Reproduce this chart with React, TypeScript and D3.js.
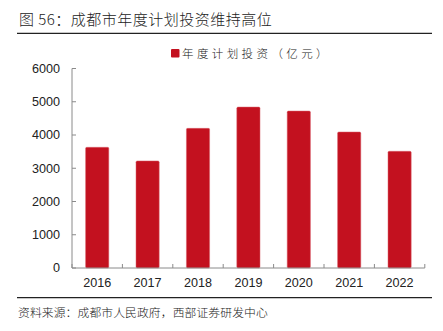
import React from "react";
import * as d3 from "d3";

const years = ["2016", "2017", "2018", "2019", "2020", "2021", "2022"];
const investment = [3630, 3220, 4200, 4840, 4720, 4090, 3510];
const yTicks = [0, 1000, 2000, 3000, 4000, 5000, 6000];
const titleText = "图 56：成都市年度计划投资维持高位";
const legendText = "年度计划投资（亿元）";
const sourceText = "资料来源：成都市人民政府，西部证券研发中心";

const W = 443;
const H = 331;
const RED = "#C3111F";
const AXIS = "#8a8a8a";
const CJK = "'Noto Sans CJK SC', 'Noto Sans', sans-serif";
const LATIN = "'Liberation Sans', Arial, sans-serif";

export default function App() {
  const x = d3
    .scaleBand<string>()
    .domain(years)
    .range([72, 424.8])
    .paddingInner(0.54)
    .paddingOuter(0.27);
  const y = d3.scaleLinear().domain([0, 6000]).range([268, 68.5]);
  const x0 = x.range()[0];
  const x1 = x.range()[1];
  const step = x.step();
  const boundaries = d3.range(years.length + 1).map((i) => x0 + i * step);

  return (
    <svg
      width={W}
      height={H}
      viewBox={`0 0 ${W} ${H}`}
      style={{ position: "absolute", left: 0, top: 0, background: "#fff" }}
    >
      <text
        x={19}
        y={24.5}
        fontFamily={CJK}
        fontSize={15}
        fontWeight={300}
        letterSpacing={0.5}
        fill="#222"
      >
        {titleText}
      </text>
      <line x1={17} x2={432} y1={33.3} y2={33.3} stroke="#222" strokeWidth={1.2} />

      <rect x={171} y={49} width={8.5} height={8.5} fill={RED} rx={1} />
      <text
        x={182}
        y={57.5}
        fontFamily={CJK}
        fontSize={11.5}
        fontWeight={300}
        letterSpacing={3.4}
        fill="#222"
      >
        {legendText}
      </text>

      {years.map((yr, i) => (
        <rect
          key={yr}
          x={x(yr)}
          y={y(investment[i])}
          width={x.bandwidth()}
          height={y(0) - y(investment[i])}
          fill={RED}
          stroke="#d9606a"
          strokeWidth={0.5}
          rx={1.2}
        />
      ))}

      <line x1={72} x2={72} y1={y(6000)} y2={y(0)} stroke={AXIS} strokeWidth={1} />
      {yTicks.map((t) => (
        <g key={t}>
          <line x1={72} x2={76} y1={y(t)} y2={y(t)} stroke={AXIS} strokeWidth={1} />
          <text
            x={60}
            y={y(t)}
            dy="0.35em"
            textAnchor="end"
            fontFamily={LATIN}
            fontSize={12.6}
            fill="#222"
          >
            {t}
          </text>
        </g>
      ))}

      <line x1={x0} x2={x1} y1={y(0)} y2={y(0)} stroke={AXIS} strokeWidth={1} />
      {boundaries.map((bx, i) => (
        <line key={i} x1={bx} x2={bx} y1={y(0)} y2={y(0) - 4} stroke={AXIS} strokeWidth={1} />
      ))}
      {years.map((yr) => (
        <text
          key={yr}
          x={(x(yr) as number) + x.bandwidth() / 2}
          y={287}
          textAnchor="middle"
          fontFamily={LATIN}
          fontSize={12.6}
          fill="#222"
        >
          {yr}
        </text>
      ))}

      <line x1={17} x2={432} y1={297.7} y2={297.7} stroke="#222" strokeWidth={1.2} />
      <text
        x={18}
        y={317}
        fontFamily={CJK}
        fontSize={11.8}
        fontWeight={300}
        letterSpacing={0.1}
        fill="#222"
      >
        {sourceText}
      </text>
    </svg>
  );
}
